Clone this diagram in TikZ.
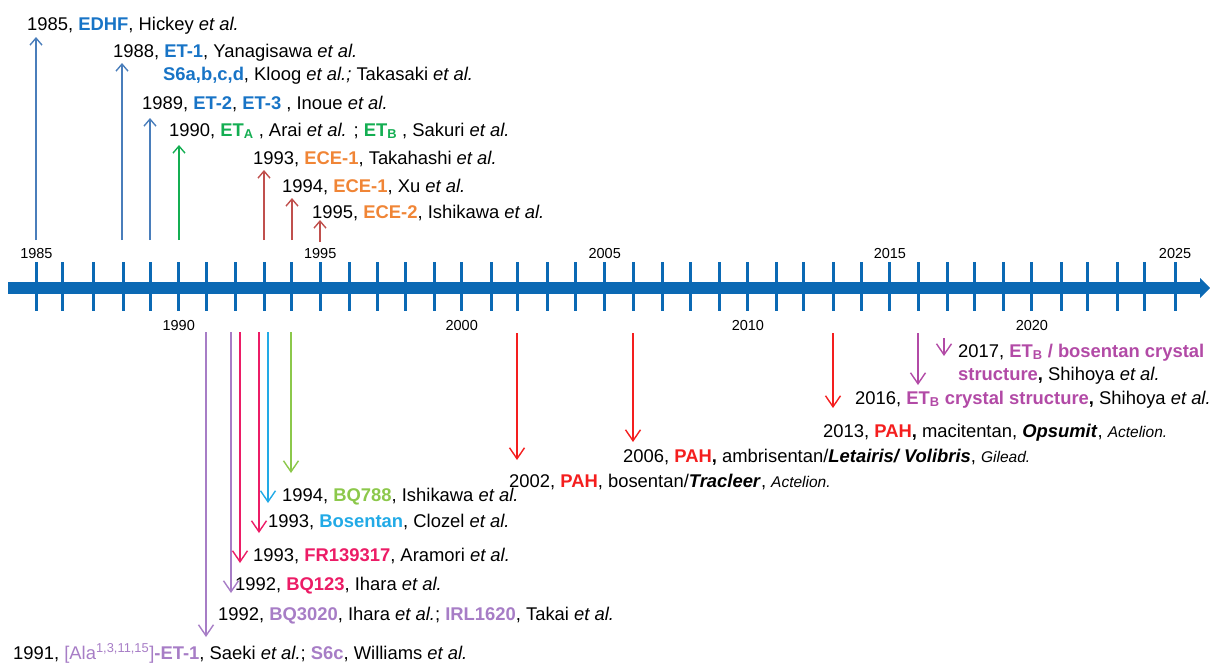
\documentclass[tikz,border=0pt]{standalone}
\usepackage{fontspec}
\setmainfont{Liberation Sans}
\usetikzlibrary{arrows.meta}
\definecolor{axblue}{HTML}{0B69B4}
\definecolor{upblue}{HTML}{4A7EBB}
\definecolor{tblue}{HTML}{1874C6}
\definecolor{tgreen}{HTML}{14AE52}
\definecolor{upred}{HTML}{C0504D}
\definecolor{torange}{HTML}{F08536}
\definecolor{lpurple}{HTML}{A77DC6}
\definecolor{tpink}{HTML}{EC1C66}
\definecolor{tcyan}{HTML}{22AAE6}
\definecolor{lgreen}{HTML}{8CC84B}
\definecolor{tred}{HTML}{F41E1E}
\definecolor{tmag}{HTML}{B24AA6}
\newcommand{\etal}{\textit{et al.}}
\newcommand{\smallit}[1]{{\fontsize{15.5}{18}\selectfont\textit{#1}}}
\begin{document}
\begin{tikzpicture}[x=1pt,y=-1pt,
  lab/.style={anchor=base west, inner sep=0pt, font=\fontsize{18.4}{21}\selectfont},
  yr/.style={anchor=base, inner sep=0pt, font=\fontsize{14.5}{17}\selectfont},
  uparr/.style={line width=1.4pt, -{Straight Barb[length=7pt,width=12pt]}},
  dnarr/.style={line width=1.4pt, -{Straight Barb[length=11pt,width=15pt]}},
  tickmark/.style={axblue, line width=3pt},
]
\useasboundingbox (0,0) rectangle (1210,662);

% axis
\fill[axblue] (8,282) rectangle (1202,294);
\fill[axblue] (1200,278) -- (1210,288) -- (1200,298) -- cycle;
\foreach \x in {36.4, 62.5, 93.3, 123.3, 150.2, 178.7, 206.3, 235.6, 264, 291.7, 320.2, 349.4, 377.9, 405.5, 434, 461.7, 491.7, 517.8, 547.8, 575.5, 604.7, 633, 662.3, 690.7, 719.5, 747.9, 776.3, 803.1, 833.5, 861.5, 889.9, 918.3, 947.1, 974.3, 1003.9, 1031.9, 1061.1, 1087.2, 1117.5, 1144, 1175.1}
  \draw[tickmark] (\x,262) -- (\x,311);

% year labels
\node[yr] (y1985) at (36.4,258) {1985};
\node[yr] (y1995) at (320.2,258) {1995};
\node[yr] (y2005) at (604.7,258) {2005};
\node[yr] (y2015) at (889.9,258) {2015};
\node[yr] (y2025) at (1175.1,258) {2025};
\node[yr] (y1990) at (178.7,330) {1990};
\node[yr] (y2000) at (461.7,330) {2000};
\node[yr] (y2010) at (747.9,330) {2010};
\node[yr] (y2020) at (1031.9,330) {2020};

% upper labels
\node[lab] (t85) at (27,30) {1985, \textcolor{tblue}{\textbf{EDHF}}, Hickey \etal};
\node[lab] (t88) at (113,57) {1988, \textcolor{tblue}{\textbf{ET-1}}, Yanagisawa \etal};
\node[lab] (ts6) at (163,80) {\textcolor{tblue}{\textbf{S6a,b,c,d}}, Kloog \textit{et al.;} Takasaki \etal};
\node[lab] (t89) at (142,109) {1989, \textcolor{tblue}{\textbf{ET-2}}, \textcolor{tblue}{\textbf{ET-3}} , Inoue \etal};
\node[lab] (t90) at (169,136) {1990, \textcolor{tgreen}{\textbf{ET\textsubscript{A}}} , Arai \etal{} ; \textcolor{tgreen}{\textbf{ET\textsubscript{B}}} , Sakuri \etal};
\node[lab] (t93u) at (253,164) {1993, \textcolor{torange}{\textbf{ECE-1}}, Takahashi \etal};
\node[lab] (t94u) at (282,192) {1994, \textcolor{torange}{\textbf{ECE-1}}, Xu \etal};
\node[lab] (t95u) at (312,218) {1995, \textcolor{torange}{\textbf{ECE-2}}, Ishikawa \etal};

% upper arrows
\coordinate (u85s) at (36,240);  \coordinate (u85e) at (36,37);
\coordinate (u88s) at (122,240); \coordinate (u88e) at (122,63);
\coordinate (u89s) at (150,240); \coordinate (u89e) at (150,118);
\coordinate (u90s) at (179,240); \coordinate (u90e) at (179,145);
\coordinate (u93s) at (264,240); \coordinate (u93e) at (264,170);
\coordinate (u94s) at (292,240); \coordinate (u94e) at (292,198);
\coordinate (u95s) at (320,242); \coordinate (u95e) at (320,220);
\draw[uparr, upblue] (u85s) -- (u85e);
\draw[uparr, upblue] (u88s) -- (u88e);
\draw[uparr, upblue] (u89s) -- (u89e);
\draw[uparr, tgreen] (u90s) -- (u90e);
\draw[uparr, upred] (u93s) -- (u93e);
\draw[uparr, upred] (u94s) -- (u94e);
\draw[uparr, upred] (u95s) -- (u95e);

% lower left labels
\node[lab] (t94d) at (282,501) {1994, \textcolor{lgreen}{\textbf{BQ788}}, Ishikawa \etal};
\node[lab] (t93b) at (268,527) {1993, \textcolor{tcyan}{\textbf{Bosentan}}, Clozel \etal};
\node[lab] (t93f) at (253,561) {1993, \textcolor{tpink}{\textbf{FR139317}}, Aramori \etal};
\node[lab] (t92a) at (235,590) {1992, \textcolor{tpink}{\textbf{BQ123}}, Ihara \etal};
\node[lab] (t92b) at (218,620) {1992, \textcolor{lpurple}{\textbf{BQ3020}}, Ihara \textit{et al.}; \textcolor{lpurple}{\textbf{IRL1620}}, Takai \etal};
\node[lab] (t91) at (13,659) {1991, \textcolor{lpurple}{[Ala\textsuperscript{1,3,11,15}]\textbf{-ET-1}}, Saeki \textit{et al.}; \textcolor{lpurple}{\textbf{S6c}}, Williams \etal};

% lower right labels
\node[lab] (t02) at (509,487) {2002, \textcolor{tred}{\textbf{PAH}}, bosentan/\textbf{\textit{Tracleer}}, \smallit{Actelion.}};
\node[lab] (t06) at (623,462) {2006, \textcolor{tred}{\textbf{PAH}}\textbf{,} ambrisentan/\textbf{\textit{Letairis/ Volibris}}, \smallit{Gilead.}};
\node[lab] (t13) at (823,437) {2013, \textcolor{tred}{\textbf{PAH}}\textbf{,} macitentan, \textbf{\textit{Opsumit}}, \smallit{Actelion.}};
\node[lab] (t16) at (855,404) {2016, \textcolor{tmag}{\textbf{ET\textsubscript{B} crystal structure}}\textbf{,} Shihoya \etal};
\node[lab] (t17) at (958,357) {2017, \textcolor{tmag}{\textbf{ET\textsubscript{B} / bosentan crystal}}};
\node[lab] (t17b) at (958,380) {\textcolor{tmag}{\textbf{structure}}\textbf{,} Shihoya \etal};

% lower arrows
\coordinate (d91s) at (206,332); \coordinate (d91e) at (206,637);
\coordinate (d92s) at (231,332); \coordinate (d92e) at (231,593);
\coordinate (d93fs) at (240,332); \coordinate (d93fe) at (240,563);
\coordinate (d93bs) at (259,332); \coordinate (d93be) at (259,533);
\coordinate (d94cs) at (268,332); \coordinate (d94ce) at (268,503);
\coordinate (d94gs) at (291,332); \coordinate (d94ge) at (291,473);
\coordinate (d02s) at (517,333); \coordinate (d02e) at (517,460);
\coordinate (d06s) at (633,333); \coordinate (d06e) at (633,442);
\coordinate (d13s) at (833,333); \coordinate (d13e) at (833,408);
\coordinate (d16s) at (918,333); \coordinate (d16e) at (918,385);
\coordinate (d17s) at (944,338); \coordinate (d17e) at (944,356);
\draw[dnarr, lpurple] (d91s) -- (d91e);
\draw[dnarr, lpurple] (d92s) -- (d92e);
\draw[dnarr, tpink] (d93fs) -- (d93fe);
\draw[dnarr, tpink] (d93bs) -- (d93be);
\draw[dnarr, tcyan] (d94cs) -- (d94ce);
\draw[dnarr, lgreen] (d94gs) -- (d94ge);
\draw[dnarr, tred] (d02s) -- (d02e);
\draw[dnarr, tred] (d06s) -- (d06e);
\draw[dnarr, tred] (d13s) -- (d13e);
\draw[dnarr, tmag] (d16s) -- (d16e);
\draw[dnarr, tmag] (d17s) -- (d17e);
\end{tikzpicture}
\end{document}
